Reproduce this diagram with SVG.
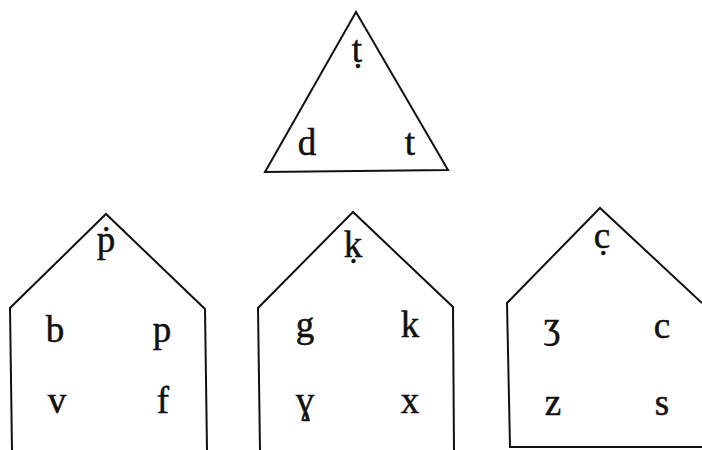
<svg xmlns="http://www.w3.org/2000/svg" width="702" height="450" viewBox="0 0 702 450">
<style>
.s{fill:none;stroke:#111;stroke-width:2;stroke-linejoin:miter}
.t{font-family:"Liberation Serif","DejaVu Serif",serif;font-size:37px;fill:#111;stroke:#111;stroke-width:0.5;text-anchor:middle}
</style>
<rect width="702" height="450" fill="#fff"/>
<g id="triangle">
<polygon class="s" points="356,12 265,172 448,170"/>
<text class="t" x="357" y="62">ṭ</text>
<text class="t" x="307" y="155">d</text>
<text class="t" x="410" y="155">t</text>
</g>
<g id="house-p">
<polyline class="s" points="12,450 10,308 106,214 205,309 207,450"/>
<text class="t" x="106" y="252">ṗ</text>
<text class="t" x="55" y="342">b</text>
<text class="t" x="162" y="342">p</text>
<text class="t" x="57" y="413">v</text>
<text class="t" x="163" y="413">f</text>
</g>
<g id="house-k">
<polyline class="s" points="260,450 258,308 353,212 453,307 454,450"/>
<text class="t" x="353" y="257">ḳ</text>
<text class="t" x="305" y="337">g</text>
<text class="t" x="410" y="337">k</text>
<text class="t" x="305" y="413">ɣ</text>
<text class="t" x="410" y="413">x</text>
</g>
<g id="house-c">
<polyline class="s" points="702,303 600,208 507,303 510,447 702,447"/>
<text class="t" x="602" y="248">c̣</text>
<text class="t" x="552" y="338">ʒ</text>
<text class="t" x="662" y="338">c</text>
<text class="t" x="553" y="415">z</text>
<text class="t" x="662" y="415">s</text>
</g>
<g id="connectors"></g>
</svg>
